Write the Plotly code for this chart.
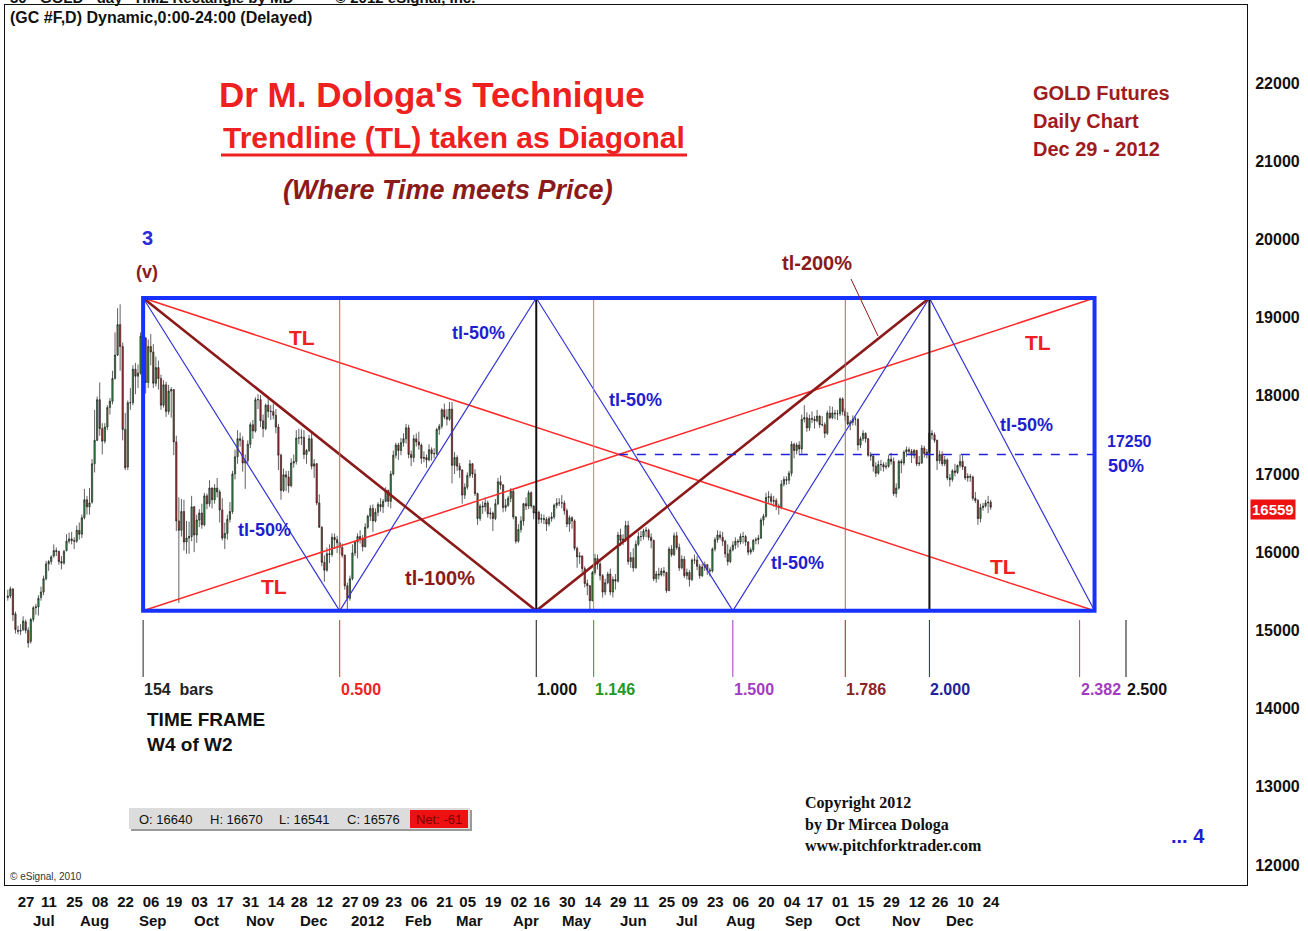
import pandas as pd
import plotly.graph_objects as go

# GC #F daily bars, chart units (price x 10), one row per month Jun 2011 .. Dec 2012
opens = [
    15420, 15440, 15530, 15210, 15000, 14990, 15010, 15110,
    15000, 14860, 15140, 15290, 15300, 15420, 15490, 15660, 15850, 15880, 15950, 16020, 16010, 15880, 15860, 16020, 16140, 16170, 16150, 16140,
    16280, 16230, 16440, 16670, 16580, 16640, 17130, 17430, 17950, 17580, 17420, 17600, 17850, 17930, 18220, 18520, 18910, 18630, 17570, 17090, 17910, 17910, 18340,
    18250, 18290, 18780, 18740, 18170, 18630, 18560, 18160, 18360, 18220, 17880, 18140, 17800, 18060, 18080, 17410, 16400, 16280, 16520, 16130, 16180,
    16200, 16580, 16220, 16410, 16500, 16350, 16720, 16620, 16820, 16670, 16820, 16770, 16540, 16180, 16240, 16420, 16520, 17000, 17220, 17450, 17430,
    17140, 17170, 17380, 17630, 17550, 17950, 17950, 17680, 17580, 17880, 17800, 17800, 17750, 17600, 17240, 16790, 16990, 16960, 16850, 17140, 17160,
    17460, 17460, 17470, 17250, 17300, 17450, 17100, 17130, 16630, 16320, 15870, 15770, 15980, 15970, 16190, 16160, 16120, 16060, 15960, 15570, 15410,
    15660, 15990, 16130, 16200, 16170, 16070, 16320, 16460, 16560, 16400, 16510, 16610, 16580, 16650, 16790, 16650, 17000, 17240, 17370, 17300,
    17400, 17450, 17590, 17250, 17210, 17450, 17410, 17370, 17200, 17210, 17180, 17310, 17260, 17260, 17570, 17610, 17820, 17730, 17700, 17830,
    17110, 17210, 17100, 17050, 16730, 16830, 16980, 17130, 17000, 16750, 16430, 16590, 16580, 16630, 16490, 16500, 16430, 16620, 16900, 16860, 16570, 16600,
    16690, 16780, 16450, 16140, 16290, 16400, 16620, 16590, 16760, 16590, 16500, 16510, 16420, 16430, 16420, 16360, 16430, 16450, 16600, 16630,
    16630, 16630, 16530, 16360, 16440, 16400, 16050, 15940, 15950, 15790, 15600, 15570, 15380, 15740, 15920, 15850, 15700, 15490, 15610, 15720, 15490, 15650,
    15630, 16220, 16150, 16170, 16340, 15880, 15930, 15800, 16100, 16200, 16200, 16270, 16280, 16190, 16150, 15660, 15720, 15710, 15760, 15740, 15510,
    16040, 15970, 16210, 16060, 15800, 15910, 15700, 15740, 15650, 15900, 15900, 15820, 15700, 15810, 15840, 15770, 15760, 16040, 16160, 16220, 16190,
    16140, 15980, 15880, 16030, 16090, 16140, 16130, 16200, 16200, 16130, 16000, 16030, 16150, 16160, 16180, 16410, 16460, 16700, 16710, 16650, 16660, 16590, 16570,
    16870, 16930, 16920, 17010, 17380, 17300, 17370, 17320, 17700, 17720, 17590, 17710, 17700, 17680, 17740, 17630, 17630, 17520, 17780,
    17720, 17780, 17770, 17770, 17960, 17800, 17740, 17640, 17660, 17700, 17700, 17370, 17450, 17520, 17450, 17240, 17230, 17100, 17010, 17120, 17120, 17090, 17100,
    17190, 17160, 16750, 16820, 17160, 17140, 17280, 17310, 17290, 17240, 17300, 17130, 17140, 17330, 17260, 17280, 17520, 17500, 17430, 17170, 17250,
    17130, 17180, 16950, 16930, 17040, 17020, 17110, 17160, 17090, 16950, 16970, 16960, 16690, 16660, 16430, 16570, 16590, 16630, 16640,
]
highs = [
    15520, 15560, 15540, 15240, 15060, 15080, 15180, 15140,
    15040, 15160, 15310, 15340, 15450, 15560, 15700, 15890, 15900, 15960, 16100, 16060, 16020, 15950, 16030, 16230, 16250, 16260, 16190, 16340,
    16380, 16480, 16810, 16720, 16820, 17190, 17820, 17990, 18170, 17650, 17650, 17880, 17970, 18320, 18810, 19120, 19170, 18680, 17780, 17940, 18100, 18390, 18420,
    18400, 18810, 19240, 18750, 18720, 18790, 18660, 18500, 18450, 18270, 18200, 18180, 18140, 18110, 18080, 17490, 16700, 16680, 16670, 16400, 16390,
    16720, 16590, 16480, 16550, 16620, 16760, 16750, 16920, 16830, 16870, 16950, 16800, 16690, 16380, 16480, 16640, 17040, 17310, 17560, 17530, 17480,
    17250, 17430, 17660, 17690, 17980, 18020, 18010, 17760, 17900, 17960, 17880, 17900, 17830, 17640, 17260, 17070, 17040, 17040, 17200, 17250, 17560,
    17580, 17570, 17560, 17320, 17500, 17540, 17190, 17140, 16740, 16330, 15960, 16060, 16100, 16240, 16240, 16210, 16130, 16110, 15970, 15610, 15700,
    16100, 16150, 16240, 16280, 16220, 16370, 16480, 16600, 16610, 16560, 16640, 16690, 16680, 16830, 16800, 17040, 17300, 17400, 17400, 17460,
    17520, 17640, 17630, 17300, 17500, 17520, 17540, 17390, 17290, 17250, 17380, 17340, 17330, 17590, 17640, 17840, 17900, 17830, 17920, 17920,
    17280, 17240, 17140, 17060, 16880, 17020, 17180, 17140, 17060, 16760, 16620, 16650, 16700, 16660, 16570, 16520, 16680, 16950, 16980, 16870, 16680, 16720,
    16820, 16800, 16460, 16360, 16460, 16630, 16700, 16790, 16780, 16600, 16560, 16530, 16490, 16480, 16450, 16460, 16510, 16620, 16690, 16690,
    16730, 16660, 16560, 16470, 16460, 16420, 16070, 16000, 15960, 15820, 15650, 15580, 15760, 15980, 15970, 15880, 15720, 15660, 15750, 15790, 15690, 15720,
    16260, 16300, 16230, 16400, 16400, 16000, 16050, 16150, 16260, 16270, 16300, 16320, 16300, 16240, 16160, 15760, 15800, 15800, 15810, 15750, 16070,
    16090, 16250, 16260, 16110, 15960, 15950, 15790, 15770, 15920, 15970, 15950, 15850, 15850, 15880, 15850, 15800, 16060, 16190, 16280, 16270, 16260,
    16160, 16100, 16070, 16140, 16190, 16170, 16240, 16260, 16220, 16140, 16060, 16170, 16190, 16220, 16440, 16490, 16760, 16780, 16750, 16720, 16690, 16620, 16920,
    16970, 16970, 17040, 17420, 17400, 17400, 17420, 17760, 17880, 17790, 17760, 17800, 17740, 17820, 17750, 17740, 17660, 17810, 17870,
    17860, 17820, 17820, 17980, 17980, 17840, 17790, 17690, 17750, 17730, 17710, 17480, 17560, 17530, 17460, 17280, 17250, 17150, 17170, 17180, 17150, 17150, 17240,
    17270, 17210, 16880, 17180, 17190, 17300, 17350, 17340, 17320, 17320, 17310, 17230, 17370, 17360, 17320, 17550, 17560, 17530, 17440, 17300, 17290,
    17230, 17200, 17000, 17060, 17130, 17120, 17250, 17240, 17100, 17010, 17000, 16980, 16770, 16680, 16620, 16630, 16670, 16720, 16670,
]
lows = [
    15380, 15410, 15120, 14960, 14950, 14940, 14990, 14960,
    14780, 14830, 15110, 15200, 15190, 15380, 15450, 15640, 15760, 15840, 15930, 15950, 15840, 15780, 15840, 16010, 16110, 16100, 16040, 16120,
    16160, 16180, 16420, 16480, 16480, 16620, 17020, 17420, 17490, 17250, 17390, 17560, 17760, 17890, 18210, 18510, 18320, 17430, 17050, 17050, 17820, 17880, 18020,
    18100, 18270, 18600, 18030, 18100, 18390, 18100, 18120, 18080, 17820, 17850, 17730, 17760, 17720, 17240, 16270, 15350, 16200, 16020, 15980, 15980,
    16140, 16000, 16120, 16320, 16300, 16330, 16550, 16580, 16560, 16620, 16700, 16380, 16150, 16040, 16160, 16380, 16490, 16930, 17130, 17350, 17030,
    16810, 17130, 17330, 17450, 17530, 17830, 17600, 17470, 17560, 17720, 17690, 17700, 17520, 17050, 16670, 16770, 16780, 16760, 16830, 17080, 17120,
    17380, 17370, 17190, 17130, 17280, 17060, 16950, 16600, 16310, 15820, 15620, 15750, 15860, 15940, 16040, 15990, 15970, 15930, 15520, 15240, 15380,
    15640, 15950, 15920, 16110, 16010, 16060, 16300, 16400, 16260, 16380, 16460, 16520, 16500, 16640, 16580, 16560, 16980, 17200, 17180, 17240,
    17350, 17390, 17200, 17100, 17150, 17350, 17310, 17130, 17150, 17080, 17160, 17170, 17200, 17240, 17500, 17580, 17700, 17620, 17680, 16880,
    17000, 17040, 16950, 16620, 16680, 16800, 16950, 16950, 16720, 16350, 16400, 16490, 16520, 16440, 16420, 16270, 16410, 16600, 16800, 16510, 16520, 16580,
    16640, 16420, 16110, 16120, 16250, 16340, 16540, 16550, 16560, 16420, 16440, 16360, 16370, 16360, 16270, 16330, 16390, 16420, 16560, 16590,
    16560, 16480, 16320, 16260, 16300, 16020, 15800, 15850, 15740, 15550, 15450, 15270, 15370, 15710, 15780, 15640, 15420, 15450, 15590, 15450, 15420, 15520,
    15610, 16080, 16090, 16130, 15840, 15800, 15750, 15790, 16080, 16140, 16160, 16190, 16150, 16050, 15630, 15610, 15650, 15690, 15690, 15480, 15500,
    15940, 15950, 16030, 15760, 15780, 15670, 15650, 15560, 15630, 15850, 15770, 15660, 15680, 15760, 15710, 15690, 15740, 16010, 16120, 16160, 16080,
    15930, 15830, 15860, 16010, 16040, 16060, 16100, 16110, 16080, 15960, 15970, 16000, 16100, 16100, 16170, 16340, 16440, 16630, 16600, 16580, 16540, 16480, 16550,
    16840, 16860, 16870, 16970, 17200, 17250, 17260, 17260, 17660, 17540, 17550, 17650, 17580, 17660, 17590, 17610, 17460, 17500, 17700,
    17700, 17700, 17690, 17740, 17750, 17680, 17620, 17560, 17620, 17620, 17300, 17330, 17420, 17400, 17220, 17170, 17030, 16960, 16990, 17040, 17030, 17060, 17080,
    17120, 16720, 16700, 16800, 17010, 17110, 17220, 17240, 17140, 17200, 17100, 17100, 17130, 17210, 17200, 17270, 17440, 17400, 17050, 17130, 17100,
    17100, 16920, 16840, 16900, 16970, 17000, 17080, 17050, 16920, 16900, 16900, 16660, 16630, 16350, 16380, 16530, 16570, 16500, 16541,
]
closes = [
    15440, 15530, 15200, 15010, 14990, 15000, 15120, 15000,
    14840, 15140, 15290, 15300, 15410, 15490, 15660, 15850, 15880, 15940, 16020, 16010, 15880, 15860, 16010, 16140, 16170, 16150, 16140, 16280,
    16230, 16440, 16670, 16580, 16630, 17130, 17430, 17950, 17580, 17420, 17600, 17850, 17930, 18220, 18520, 18910, 18630, 17570, 17080, 17910, 17910, 18340, 18250,
    18290, 18760, 18740, 18170, 18630, 18560, 18160, 18360, 18220, 17880, 18140, 17800, 18060, 18080, 17410, 16400, 16280, 16520, 16130, 16180, 16200,
    16580, 16220, 16410, 16500, 16350, 16720, 16620, 16820, 16670, 16820, 16770, 16540, 16180, 16240, 16420, 16520, 17000, 17220, 17450, 17430, 17140,
    17170, 17380, 17630, 17550, 17950, 17950, 17680, 17580, 17880, 17800, 17800, 17750, 17600, 17240, 16790, 16990, 16960, 16850, 17140, 17160, 17460,
    17460, 17470, 17250, 17300, 17450, 17100, 17130, 16630, 16320, 15870, 15770, 15980, 15970, 16190, 16160, 16120, 16060, 15960, 15570, 15410, 15660,
    15990, 16130, 16200, 16170, 16070, 16320, 16460, 16560, 16400, 16510, 16610, 16580, 16650, 16790, 16650, 17000, 17240, 17370, 17300, 17400,
    17450, 17590, 17250, 17210, 17450, 17410, 17370, 17200, 17210, 17180, 17310, 17260, 17260, 17570, 17610, 17820, 17730, 17700, 17830, 17110,
    17210, 17100, 17050, 16730, 16830, 16980, 17130, 17000, 16750, 16430, 16590, 16580, 16630, 16490, 16500, 16430, 16620, 16900, 16860, 16570, 16600, 16690,
    16780, 16450, 16140, 16290, 16400, 16620, 16590, 16760, 16590, 16500, 16510, 16420, 16430, 16420, 16360, 16430, 16450, 16600, 16630, 16630,
    16630, 16530, 16360, 16440, 16400, 16050, 15940, 15950, 15790, 15600, 15570, 15380, 15740, 15920, 15850, 15700, 15490, 15610, 15720, 15490, 15650, 15630,
    16220, 16150, 16170, 16340, 15880, 15930, 15800, 16100, 16200, 16200, 16270, 16280, 16190, 16150, 15660, 15720, 15710, 15760, 15740, 15510, 16040,
    15970, 16210, 16060, 15800, 15910, 15700, 15740, 15650, 15900, 15900, 15820, 15700, 15810, 15840, 15770, 15760, 16040, 16160, 16220, 16190, 16140,
    15980, 15880, 16030, 16090, 16140, 16130, 16200, 16200, 16130, 16000, 16030, 16150, 16160, 16180, 16410, 16460, 16700, 16710, 16650, 16660, 16590, 16570, 16870,
    16930, 16920, 17010, 17380, 17300, 17370, 17320, 17700, 17720, 17590, 17710, 17700, 17680, 17740, 17630, 17630, 17520, 17780, 17720,
    17780, 17770, 17770, 17960, 17800, 17740, 17640, 17660, 17700, 17700, 17370, 17450, 17520, 17450, 17240, 17230, 17100, 17010, 17120, 17120, 17090, 17100, 17190,
    17160, 16750, 16820, 17160, 17140, 17280, 17310, 17290, 17240, 17300, 17130, 17140, 17330, 17260, 17280, 17520, 17500, 17430, 17170, 17250, 17130,
    17180, 16950, 16930, 17040, 17020, 17110, 17160, 17090, 16950, 16970, 16960, 16690, 16660, 16430, 16570, 16590, 16630, 16637, 16576,
]

holidays = ["2011-07-04", "2011-09-05", "2011-11-24", "2011-12-26", "2012-01-02", "2012-01-16",
            "2012-02-20", "2012-04-06", "2012-05-28", "2012-07-04", "2012-09-03", "2012-11-22", "2012-12-25"]
tick_dates = ["2011-06-27", "2011-07-11", "2011-07-25", "2011-08-08", "2011-08-22", "2011-09-06",
              "2011-09-19", "2011-10-03", "2011-10-17", "2011-10-31", "2011-11-14", "2011-11-28",
              "2011-12-12", "2011-12-27", "2012-01-09", "2012-01-23", "2012-02-06", "2012-02-21",
              "2012-03-05", "2012-03-19", "2012-04-02", "2012-04-16", "2012-04-30", "2012-05-14",
              "2012-05-29", "2012-06-11", "2012-06-25", "2012-07-09", "2012-07-23", "2012-08-06",
              "2012-08-20", "2012-09-04", "2012-09-17", "2012-10-01", "2012-10-15", "2012-10-29",
              "2012-11-12", "2012-11-26", "2012-12-10", "2012-12-24"]
month_text = ["Jul", "Aug", "Sep", "Oct", "Nov", "Dec", "2012", "Feb", "Mar", "Apr", "May", "Jun",
              "Jul", "Aug", "Sep", "Oct", "Nov", "Dec"]

# diagonal box (time frame W4 of W2)
box_anchor = "2011-09-06"
box_bars = 154
box_top, box_bot = 19250, 15250
box_width_ratio = 2.42
fractions = [0, 0.5, 1.0, 1.146, 1.5, 1.786, 2.0, 2.382, 2.5]
frac_labels = ["154  bars", "0.500", "1.000", "1.146", "1.500", "1.786", "2.000", "2.382", "2.500"]
frac_colors = ["#222222", "#ee2222", "#111111", "#229922", "#a23cc0", "#8b2525", "#22229a", "#a23cc0", "#111111"]

SANS = "Liberation Sans, Arial, sans-serif"
SERIF = "Liberation Serif, Times New Roman, serif"

dates = pd.bdate_range("2011-06-21", "2012-12-28")
dates = dates[~dates.isin(pd.to_datetime(holidays))]
xs = list(range(len(closes)))
tick_vals = [dates.get_loc(pd.Timestamp(d)) for d in tick_dates]
tick_text = [d[-2:] for d in tick_dates]

pos = pd.Series(range(len(dates)), index=dates)
month_first = pos.groupby([dates.year, dates.month]).min().tolist()[1:]

s = dates.get_loc(pd.Timestamp(box_anchor))
box_end = s + box_width_ratio * box_bars
box_mid = (box_top + box_bot) / 2


def ppx(x):
    return (x - 5) / 1242


def ppy(y):
    return (885 - y) / 880


fig = go.Figure(go.Candlestick(
    x=xs, open=opens, high=highs, low=lows, close=closes,
    increasing=dict(fillcolor="#38a845", line=dict(color="#1e1e1e", width=0.7)),
    decreasing=dict(fillcolor="#c8302a", line=dict(color="#1e1e1e", width=0.7)),
    whiskerwidth=0, showlegend=False, hoverinfo="skip",
))

# trendlines and box
red, brown, blue = "#ff2a2a", "#8b1a1a", "#3535d8"
fig.add_shape(type="line", x0=s, y0=box_top, x1=box_end, y1=box_bot, line=dict(color=red, width=1.5))
fig.add_shape(type="line", x0=s, y0=box_bot, x1=box_end, y1=box_top, line=dict(color=red, width=1.5))

zig_x = [s, s + 0.5 * box_bars, s + box_bars, s + 1.5 * box_bars, s + 2 * box_bars, box_end]
zig_y = [box_top, box_bot, box_top, box_bot, box_top, box_bot]
path = "M " + " L ".join(f"{a},{b}" for a, b in zip(zig_x, zig_y))
fig.add_shape(type="path", path=path, line=dict(color=blue, width=1.2))
v_path = f"M {s},{box_top} L {s + box_bars},{box_bot} L {s + 2 * box_bars},{box_top}"
fig.add_shape(type="path", path=v_path, line=dict(color=brown, width=2.6))

inner = {0.5: ("#e05050", 1), 1.0: ("#111111", 2), 1.146: ("#c08070", 1), 1.786: ("#b06060", 1), 2.0: ("#111111", 2)}
for f, (c, w) in inner.items():
    xv = s + f * box_bars
    fig.add_shape(type="line", x0=xv, x1=xv, y0=box_bot, y1=box_top, line=dict(color=c, width=w))

fig.add_shape(type="line", x0=(s + box_end) / 2, x1=box_end, y0=box_mid, y1=box_mid,
              line=dict(color="#2020dd", width=1.5, dash="dash"))
fig.add_shape(type="rect", x0=s, x1=box_end, y0=box_bot, y1=box_top, line=dict(color="#1732ff", width=4))

for f, lab, c in zip(fractions, frac_labels, frac_colors):
    xv = s + f * box_bars
    fig.add_shape(type="line", x0=xv, x1=xv, y0=ppy(620), y1=ppy(677), yref="paper",
                  line=dict(color=c, width=1))
    fig.add_annotation(x=xv, y=ppy(689), yref="paper", text=lab, showarrow=False, xanchor="left",
                       yanchor="middle", xshift=-1, font=dict(family=SANS, size=16, color=c, weight="bold"))

# tl-200% pointer
fig.add_shape(type="line", xref="paper", yref="paper", x0=ppx(851), y0=ppy(279), x1=ppx(878), y1=ppy(336),
              line=dict(color=brown, width=1))

# title underline
fig.add_shape(type="line", xref="paper", yref="paper", x0=ppx(221), x1=ppx(687), y0=ppy(155), y1=ppy(155),
              line=dict(color="#ee2020", width=3))

# OHLC info strip
fig.add_shape(type="rect", xref="paper", yref="paper", x0=ppx(131), x1=ppx(472), y0=ppy(831), y1=ppy(810),
              fillcolor="#9a9a9a", line=dict(width=0))
fig.add_shape(type="rect", xref="paper", yref="paper", x0=ppx(129), x1=ppx(470), y0=ppy(829), y1=ppy(808),
              fillcolor="#dcdcdc", line=dict(width=0))
fig.add_shape(type="rect", xref="paper", yref="paper", x0=ppx(410), x1=ppx(468), y0=ppy(828), y1=ppy(810),
              fillcolor="#ee1111", line=dict(width=0))


def txt(x, y, s_, size, color, family=SANS, xanchor="center", bold=True, **kw):
    fig.add_annotation(x=ppx(x), y=ppy(y), xref="paper", yref="paper", text=s_, showarrow=False,
                       xanchor=xanchor, yanchor="middle",
                       font=dict(family=family, size=size, color=color, weight="bold" if bold else "normal"), **kw)


net = closes[-1] - closes[-2]
txt(137, 819, f"O: {opens[-1]}", 13, "#111", SANS, "left", False)
txt(208, 819, f"H: {highs[-1]}", 13, "#111", SANS, "left", False)
txt(277, 819, f"L: {lows[-1]}", 13, "#111", SANS, "left", False)
txt(345, 819, f"C: {closes[-1]}", 13, "#111", SANS, "left", False)
txt(414, 819, f"Net: {net}", 13, "#7a0000", SANS, "left", False)

txt(8, -3, "30 - GOLD - day - HMZ Rectangle by MD          \u00a9 2012 eSignal, Inc.", 15, "#111", SANS, "left")
txt(8, 17, "(GC #F,D) Dynamic,0:00-24:00 (Delayed)", 16, "#111", SANS, "left")
txt(8, 876, "\u00a9 eSignal, 2010", 10, "#333", SANS, "left", False)

txt(432, 94, "Dr M. Dologa's Technique", 35, "#ee2020")
txt(454, 137, "Trendline (TL) taken as Diagonal", 30, "#ee2020")
txt(448, 190, "<i>(Where Time meets Price)</i>", 27, brown)
txt(1031, 93, "GOLD Futures", 20, "#a01c1c", xanchor="left")
txt(1031, 121, "Daily Chart", 20, "#a01c1c", xanchor="left")
txt(1031, 149, "Dec 29 - 2012", 20, "#a01c1c", xanchor="left")

txt(147, 238, "3", 20, "#2b2bd8")
txt(147, 272, "(v)", 18, brown)
for x, y in [(302, 337), (1038, 342), (274, 586), (1003, 566)]:
    txt(x, y, "TL", 21, "#ee2020")
for x, y in [(264, 530), (479, 333), (635, 400), (798, 563), (1026, 425)]:
    txt(x, y, "tl-50%", 18, "#1f1fcf")
txt(440, 578, "tl-100%", 20, brown)
txt(817, 263, "tl-200%", 20, brown)
txt(1129, 441, f"{int(box_mid)}", 16, "#1f1fcf")
txt(1126, 466, "50%", 18, "#1f1fcf")

txt(145, 719, "TIME FRAME", 19, "#111", xanchor="left")
txt(145, 744, "W4 of W2", 19, "#111", xanchor="left")
txt(803, 803, "Copyright 2012", 16, "#111", SERIF, "left")
txt(803, 825, "by Dr Mircea Dologa", 16, "#111", SERIF, "left")
txt(803, 846, "www.pitchforktrader.com", 16, "#111", SERIF, "left")
txt(1188, 836, "... 4", 20, "#1f1fcf")

# month names under the day ticks
for i, m in zip(month_first, month_text):
    fig.add_annotation(x=i + 6, y=ppy(920), yref="paper", text=m, showarrow=False, yanchor="middle",
                       font=dict(family=SANS, size=15, color="#111", weight="bold"))

# last price tag on the axis
fig.add_annotation(x=ppx(1250), xref="paper", y=16552, yref="y", text="16559", showarrow=False,
                   xanchor="left", yanchor="middle", bgcolor="#ee1111", borderpad=1,
                   font=dict(family=SANS, size=15, color="white", weight="bold"))

fig.update_layout(
    width=1308, height=931,
    margin=dict(l=5, r=61, t=5, b=46),
    paper_bgcolor="white", plot_bgcolor="white",
    showlegend=False,
    xaxis=dict(range=[-1.1, 485.4], rangeslider=dict(visible=False), tickvals=tick_vals, ticktext=tick_text,
               showgrid=False, zeroline=False, showline=True, mirror=True, linecolor="#111", linewidth=1,
               ticks="", ticklabelshift=8, ticklabelstandoff=3,
               tickfont=dict(family=SANS, size=15, color="#111", weight="bold")),
    yaxis=dict(side="right", range=[11744, 22997], tickvals=list(range(12000, 22001, 1000)), tickformat="d",
               showgrid=False, zeroline=False, showline=True, mirror=True, linecolor="#111", linewidth=1,
               ticks="", ticklabelstandoff=4,
               tickfont=dict(family=SANS, size=16, color="#111", weight="bold")),
)

fig.write_html("out.html", config={"displayModeBar": False},
               post_script="document.body.style.margin='0px';")
